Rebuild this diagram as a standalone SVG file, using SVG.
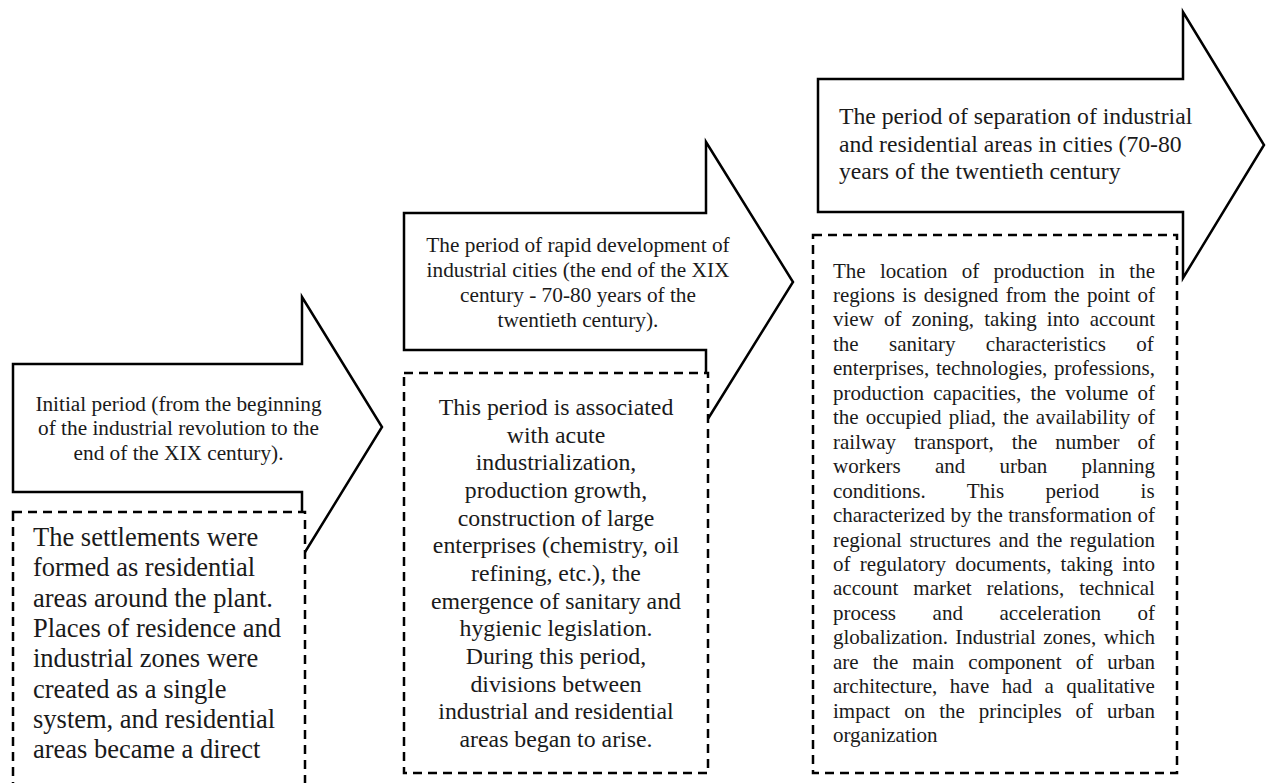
<svg xmlns="http://www.w3.org/2000/svg" width="1268" height="783" viewBox="0 0 1268 783">
<style>
.arrow{fill:#fff;stroke:#000;stroke-width:2.5;stroke-linejoin:miter}
.box{fill:#fff;stroke:#000;stroke-width:2.5;stroke-dasharray:9 6}
text{font-family:"Liberation Serif","Times New Roman",serif;fill:#1a1a1a}
.t1{font-size:21.3px;text-anchor:middle}
.t3{font-size:23.7px}
.b1{font-size:26.5px}
.b2{font-size:23.8px;text-anchor:middle}
.b3{font-size:21px}
</style>
<rect width="1268" height="783" fill="#fff"/>
<g id="connectors"></g>
<g id="stage1">
<path class="arrow" d="M13,364 H302 V297 L382,427 L302,557 V492 H13 Z"/>
<text class="t1"><tspan x="178.5" y="410.5">Initial period (from the beginning</tspan><tspan x="178.5" y="435">of the industrial revolution to the</tspan><tspan x="178.5" y="459.5">end of the XIX century).</tspan></text>
</g>
<g id="stage1-desc">
<rect class="box" x="13" y="512" width="292" height="320"/>
<text class="b1"><tspan x="33" y="546">The settlements were</tspan><tspan x="33" y="576.3">formed as residential</tspan><tspan x="33" y="606.6">areas around the plant.</tspan><tspan x="33" y="636.9">Places of residence and</tspan><tspan x="33" y="667.2">industrial zones were</tspan><tspan x="33" y="697.5">created as a single</tspan><tspan x="33" y="727.8">system, and residential</tspan><tspan x="33" y="758.1">areas became a direct</tspan></text>
</g>
<g id="stage2">
<path class="arrow" d="M404,213 H706 V142 L793,282 L706,422 V350 H404 Z"/>
<text class="t1"><tspan x="578" y="252">The period of rapid development of</tspan><tspan x="578" y="277">industrial cities (the end of the XIX</tspan><tspan x="578" y="302">century - 70-80 years of the</tspan><tspan x="578" y="327">twentieth century).</tspan></text>
</g>
<g id="stage2-desc">
<rect class="box" x="404" y="373" width="304" height="400"/>
<text class="b2"><tspan x="556" y="415">This period is associated</tspan><tspan x="556" y="442.7">with acute</tspan><tspan x="556" y="470.3">industrialization,</tspan><tspan x="556" y="498">production growth,</tspan><tspan x="556" y="525.7">construction of large</tspan><tspan x="556" y="553.3">enterprises (chemistry, oil</tspan><tspan x="556" y="581">refining, etc.), the</tspan><tspan x="556" y="608.7">emergence of sanitary and</tspan><tspan x="556" y="636.3">hygienic legislation.</tspan><tspan x="556" y="664">During this period,</tspan><tspan x="556" y="691.7">divisions between</tspan><tspan x="556" y="719.3">industrial and residential</tspan><tspan x="556" y="747">areas began to arise.</tspan></text>
</g>
<g id="stage3">
<path class="arrow" d="M818,79 H1183 V12 L1264,145 L1183,278 V212 H818 Z"/>
<text class="t3"><tspan x="839" y="124">The period of separation of industrial</tspan><tspan x="839" y="151.7">and residential areas in cities (70-80</tspan><tspan x="839" y="179.3">years of the twentieth century</tspan></text>
</g>
<g id="stage3-desc">
<rect class="box" x="813" y="235" width="364" height="538"/>
<g class="b3">
<text class="b3" x="833" y="277.5" word-spacing="8.99">The location of production in the</text>
<text class="b3" x="833" y="302" word-spacing="2.15">regions is designed from the point of</text>
<text class="b3" x="833" y="326.4" word-spacing="4.91">view of zoning, taking into account</text>
<text class="b3" x="833" y="350.9" word-spacing="25.12">the sanitary characteristics of</text>
<text class="b3" x="833" y="375.3" word-spacing="1.49">enterprises, technologies, professions,</text>
<text class="b3" x="833" y="399.8" word-spacing="3.95">production capacities, the volume of</text>
<text class="b3" x="833" y="424.2" word-spacing="1.87">the occupied pliad, the availability of</text>
<text class="b3" x="833" y="448.7" word-spacing="12.7">railway transport, the number of</text>
<text class="b3" x="833" y="473.1" word-spacing="28.98">workers and urban planning</text>
<text class="b3" x="833" y="497.6" word-spacing="36.15">conditions. This period is</text>
<text class="b3" x="833" y="522" word-spacing="0.32">characterized by the transformation of</text>
<text class="b3" x="833" y="546.5" word-spacing="2.35">regional structures and the regulation</text>
<text class="b3" x="833" y="570.9" word-spacing="3.95">of regulatory documents, taking into</text>
<text class="b3" x="833" y="595.4" word-spacing="9.75">account market relations, technical</text>
<text class="b3" x="833" y="619.8" word-spacing="31.35">process and acceleration of</text>
<text class="b3" x="833" y="644.3" word-spacing="2.15">globalization. Industrial zones, which</text>
<text class="b3" x="833" y="668.7" word-spacing="8.77">are the main component of urban</text>
<text class="b3" x="833" y="693.2" word-spacing="7.17">architecture, have had a qualitative</text>
<text class="b3" x="833" y="717.6" word-spacing="8.75">impact on the principles of urban</text>
<text class="b3" x="833" y="742.1">organization</text>
</g>
</g>
</svg>
